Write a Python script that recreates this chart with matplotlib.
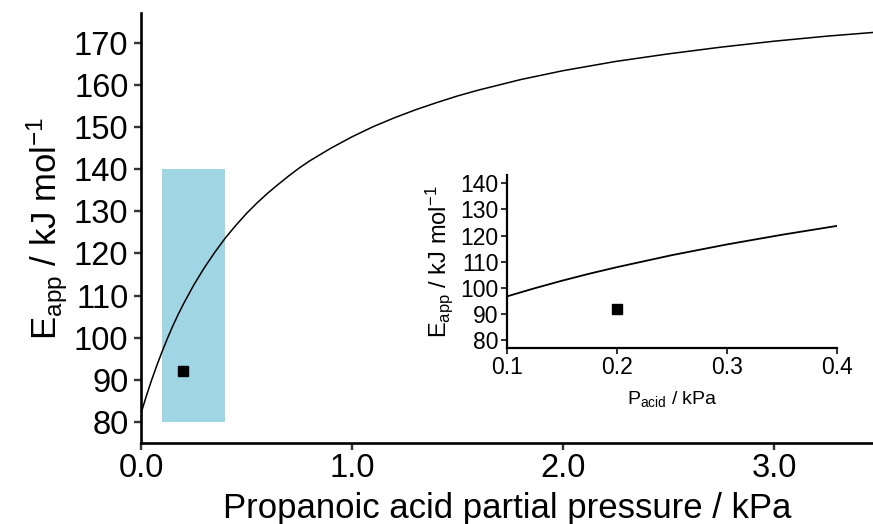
import matplotlib
matplotlib.use("Agg")
import matplotlib.pyplot as plt

plt.rcParams["font.family"] = ["Liberation Sans", "DejaVu Sans"]
plt.rcParams["mathtext.fontset"] = "custom"
plt.rcParams["mathtext.rm"] = "Liberation Sans"
plt.rcParams["mathtext.it"] = "Liberation Sans:italic"

# apparent activation energy vs propanoic acid partial pressure
p_acid = [0.0, 0.025, 0.05, 0.075, 0.1, 0.125, 0.15, 0.175, 0.2, 0.25, 0.3, 0.35,
          0.4, 0.45, 0.5, 0.55, 0.6, 0.65, 0.7, 0.75, 0.8, 0.9, 1.0, 1.1, 1.2,
          1.3, 1.4, 1.5, 1.6, 1.8, 2.0, 2.25, 2.5, 2.75, 3.0, 3.25, 3.5]
e_app = [82.0, 86.1, 89.9, 93.4, 96.7, 99.8, 102.7, 105.4, 107.9, 112.5, 116.6,
         120.3, 123.7, 126.7, 129.5, 132.0, 134.3, 136.4, 138.4, 140.3, 142.0,
         145.0, 147.7, 150.1, 152.2, 154.1, 155.8, 157.4, 158.8, 161.3, 163.4,
         165.6, 167.4, 169.0, 170.4, 171.6, 172.6]

# measured point
exp_p = [0.2]
exp_e = [92]

# experimental window
win_p = (0.1, 0.4)
win_e = (80, 140)

main_yticks = [80, 90, 100, 110, 120, 130, 140, 150, 160, 170]
main_xticks = [0.0, 1.0, 2.0, 3.0]
inset_yticks = [80, 90, 100, 110, 120, 130, 140]
inset_xticks = [0.1, 0.2, 0.3, 0.4]

ylab = "E$_{\\mathrm{app}}$ / kJ mol$^{\\mathrm{\u22121}}$"


def style(ax, lw, tl):
    for s in ("top", "right"):
        ax.spines[s].set_visible(False)
    for s in ("left", "bottom"):
        ax.spines[s].set_linewidth(lw)
    ax.tick_params(direction="out", length=tl, width=lw * 0.9, color="#333333")


fig = plt.figure(figsize=(8.73, 5.24), dpi=100)
ax = fig.add_axes([0.1615, 0.1546, 0.8385, 0.8206])

ax.fill_between(win_p, win_e[0], win_e[1], color="#a0d5e3", linewidth=0)
ax.plot(p_acid, e_app, color="black", lw=1.1)
ax.plot(exp_p, exp_e, "s", color="black", ms=7.5)

ax.set_xlim(0, 3.469)
ax.set_ylim(75.0, 177.1)
ax.set_xticks(main_xticks)
ax.set_xticklabels([f"{v:.1f}" for v in main_xticks])
ax.set_yticks(main_yticks)
ax.tick_params(labelsize=23.5, pad=2)
ax.tick_params(axis="y", pad=4)
style(ax, 1.9, 5)
ax.set_xlabel("Propanoic acid partial pressure / kPa", fontsize=25, labelpad=6)
ax.set_ylabel(ylab, fontsize=25, labelpad=3)

# zoomed view of the window
ins = fig.add_axes([0.5808, 0.3365, 0.378, 0.3296])
ins.plot(p_acid, e_app, color="black", lw=1.3)
ins.plot(exp_p, exp_e, "s", color="black", ms=6.5)
ins.set_xlim(0.1, 0.4)
ins.set_ylim(77.05, 143.2)
ins.set_xticks(inset_xticks)
ins.set_yticks(inset_yticks)
ins.tick_params(labelsize=16.5, pad=2)
style(ins, 1.6, 4)
ins.set_xlabel(r"P$_{\mathrm{acid}}$ / kPa", fontsize=14, labelpad=7)
ins.set_ylabel(ylab, fontsize=17, labelpad=4)

fig.savefig("out.png", dpi=100)
